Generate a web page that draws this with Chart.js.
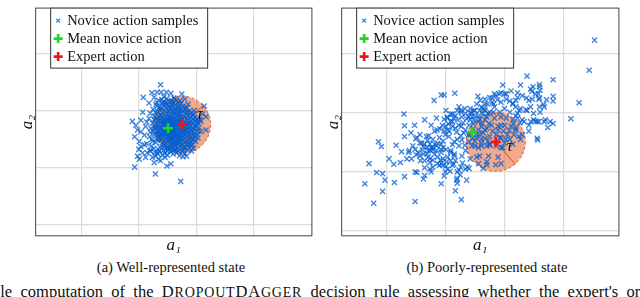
<!DOCTYPE html>
<html>
<head>
<meta charset="utf-8">
<script src="https://cdn.jsdelivr.net/npm/chart.js@4/dist/chart.umd.min.js"></script>
<style>
	body { margin: 0; width: 640px; height: 297px; overflow: hidden; background: #fff; position: relative; font-family: "Liberation Serif", "Times New Roman", serif; color: #111; }
	.panel { position: absolute; top: 0; }
	.cap { position: absolute; top: 259px; width: 240px; text-align: center; font-size: 14.5px; line-height: 16px; white-space: nowrap; }
	.foot { position: absolute; left: -8px; top: 284px; font-size: 16.5px; line-height: 16px; white-space: nowrap; word-spacing: 4.2px; }
	.sc { text-transform: uppercase; letter-spacing: 0.8px; }
	.sc small { font-size: 85%; }
</style>
</head>
<body>
<div class="panel" style="left:19px"><canvas id="wellState" width="301" height="256"></canvas></div>
<div class="panel" style="left:325px"><canvas id="poorState" width="302" height="256"></canvas></div>
<div class="cap" style="left:51px">(a) Well-represented state</div>
<div class="cap" style="left:367px">(b) Poorly-represented state</div>
<div class="foot">ple computation of the <span class="sc">D<small>ropout</small>DA<small>gger</small></span> decision rule assessing whether the expert's or novice's action</div>
<script>
// action values in grid units (grid lines at 1, 2, 3, 4)
const gridTicks = [1, 2, 3, 4];
const tau = 0.5;
const serif = "'Liberation Serif', 'Times New Roman', serif";

const wellSamples = [
	[2.38,3.45],[2.23,3.31],[2.32,3.32],[2.39,3.32],[2.48,3.32],[2.56,3.30],[2.75,3.29],[2.08,3.23],[2.27,3.23],[2.80,3.20],
	[2.18,3.13],[3.14,3.08],[1.89,2.81],[2.07,2.97],[2.04,2.83],[1.98,2.66],[2.04,2.63],[2.01,2.46],[2.04,2.37],[2.00,2.32],
	[2.10,2.40],[2.07,2.26],[2.15,2.26],[2.12,2.18],[2.24,2.18],[2.29,2.20],[2.21,2.29],[2.32,2.26],[2.38,2.12],[2.27,2.09],
	[2.46,2.18],[2.49,2.03],[2.56,2.07],[2.35,2.15],[1.93,2.01],[2.29,1.89],[2.73,1.76],[2.77,2.19],[2.83,2.20],[3.03,2.52],
	[3.08,2.63],[3.17,2.66],[3.03,2.80],[3.11,2.94],[3.17,2.89],[2.97,3.00],[2.86,3.11],[2.72,3.17],[2.63,3.20],[2.94,2.40],
	[2.92,2.29],[2.63,2.32],[1.95,2.74],[1.93,2.54],[1.98,2.20],[2.01,2.15],[3.08,2.81],[3.07,2.84],
	[2.35,3.18],[2.44,3.24],[2.52,3.16],[2.61,3.22],[2.69,3.13],[2.41,3.12],[2.58,3.09],[2.30,3.10],[2.47,3.05],[2.77,3.08],
	[2.25,3.02],[2.33,2.98],[2.39,3.04],[2.55,3.01],[2.63,3.04],[2.71,2.99],[2.82,3.03],[2.91,2.96],[2.49,2.95],[2.66,2.93],
	[2.37,2.92],[2.20,2.95],[2.86,2.91],[2.98,2.88],[2.58,2.97],
	[2.18,2.86],[2.27,2.84],[2.35,2.88],[2.43,2.83],[2.50,2.87],[2.57,2.81],[2.64,2.86],[2.72,2.83],[2.79,2.88],[2.88,2.80],
	[2.95,2.84],[3.02,2.78],[2.46,2.79],[2.60,2.77],[2.75,2.78],[2.31,2.78],[2.14,2.80],[2.68,2.90],
	[2.12,2.72],[2.21,2.69],[2.29,2.74],[2.36,2.70],[2.42,2.66],[2.48,2.73],[2.55,2.68],[2.62,2.72],[2.69,2.67],[2.76,2.71],
	[2.83,2.66],[2.90,2.72],[2.97,2.68],[3.05,2.70],[2.58,2.64],[2.44,2.75],[2.73,2.62],[2.86,2.74],[2.25,2.64],[2.52,2.60],
	[2.10,2.57],[2.19,2.54],[2.27,2.58],[2.34,2.52],[2.40,2.59],[2.47,2.53],[2.54,2.56],[2.61,2.50],[2.67,2.57],[2.74,2.53],
	[2.81,2.58],[2.88,2.51],[2.95,2.56],[2.39,2.48],[2.58,2.46],[2.70,2.45],[2.86,2.60],[2.23,2.50],
	[2.14,2.42],[2.22,2.38],[2.30,2.44],[2.37,2.36],[2.44,2.41],[2.51,2.37],[2.57,2.43],[2.64,2.38],[2.71,2.41],[2.78,2.36],
	[2.84,2.43],[2.91,2.39],[2.48,2.33],[2.62,2.31],
	[2.19,2.30],[2.28,2.27],[2.36,2.29],[2.45,2.25],[2.55,2.28],[2.66,2.26],[2.75,2.29],[2.41,2.22],
	[2.50,2.70],[2.56,2.75],[2.63,2.66],[2.45,2.62],[2.53,2.82],[2.70,2.78],[2.40,2.76],[2.60,2.58],[2.67,2.84],[2.48,2.90],
	[2.57,2.92],[2.34,2.63],[2.76,2.66],[2.81,2.80],[2.43,2.55],[2.52,2.47],[2.65,2.52],[2.73,2.95],[2.38,2.84],[2.30,2.69],
	[2.59,3.12],[2.54,2.52],[2.62,2.80],[2.46,2.68],[2.78,2.56],[2.92,2.64],[2.35,2.58],[2.28,2.90],[2.68,3.06],[2.83,2.48],
	[2.31,3.14],[2.40,3.19],[2.49,3.21],[2.57,3.17],[2.66,3.18],[2.74,3.12],[2.83,3.06],[2.36,3.06],[2.45,3.09],[2.53,3.07],
	[2.61,3.00],[2.69,3.03],[2.77,2.98],[2.85,2.97],[2.94,2.91],[3.01,2.85],[2.29,2.97],[2.41,2.96],[2.52,2.99],[2.63,2.95],
	[2.74,2.90],[2.83,2.86],[2.91,2.82],[2.99,2.74],[2.24,2.78],[2.33,2.82],[2.41,2.88],[2.55,2.86],[2.65,2.81],[2.71,2.75],
	[2.80,2.72],[2.89,2.67],[2.96,2.62],[3.02,2.58],[2.20,2.62],[2.27,2.70],[2.37,2.66],[2.47,2.64],[2.53,2.71],[2.61,2.62],
	[2.68,2.60],[2.77,2.61],[2.84,2.54],[2.92,2.50],[2.99,2.46],[2.24,2.46],[2.32,2.49],[2.41,2.44],[2.49,2.50],[2.56,2.49],
	[2.63,2.45],[2.71,2.49],[2.80,2.45],[2.88,2.41],[2.95,2.34],[2.26,2.34],[2.34,2.32],[2.43,2.30],[2.52,2.33],[2.59,2.36],
	[2.68,2.34],[2.76,2.40],[2.85,2.32],[2.33,2.24],[2.50,2.22],[2.60,2.24],[2.71,2.21],[2.80,2.25],[2.46,3.14],[2.64,3.10],
	[2.58,2.84],[2.44,2.71],[2.51,2.77],[2.66,2.76],[2.39,2.80],[2.72,2.88],[2.60,2.69],[2.48,2.59],[2.57,2.54],[2.69,2.53],
	[2.36,2.53],[2.79,2.66],[2.87,2.70],[2.45,2.46],[2.64,2.58],[2.32,2.59],[2.55,2.41],[2.74,2.45],[2.42,2.35],[2.62,2.40],
	[2.33,3.08],[2.42,3.15],[2.51,3.11],[2.60,3.14],[2.70,3.09],[2.79,3.02],[2.88,2.99],[2.96,2.94],[2.38,3.00],[2.47,2.99],
	[2.56,3.04],[2.65,2.99],[2.73,3.01],[2.82,2.95],[2.90,2.89],[2.99,2.81],[2.31,2.87],[2.40,2.91],[2.49,2.84],[2.58,2.89],
	[2.67,2.92],[2.76,2.85],[2.85,2.83],[2.93,2.77],[3.00,2.72],[2.35,2.75],[2.44,2.78],[2.53,2.75],[2.61,2.84],[2.70,2.81],
	[2.78,2.74],[2.87,2.77],[2.94,2.69],[3.03,2.64],[2.32,2.66],[2.41,2.69],[2.50,2.64],[2.59,2.72],[2.67,2.63],[2.75,2.68],
	[2.84,2.63],[2.92,2.59],[2.99,2.55],[2.37,2.57],[2.46,2.59],[2.55,2.61],[2.63,2.55],[2.72,2.58],[2.80,2.51],[2.89,2.55],
	[2.96,2.49],[2.40,2.51],[2.49,2.45],[2.58,2.51],[2.66,2.47],[2.75,2.50],[2.83,2.40],[2.91,2.45],[2.45,2.38],[2.54,2.36],
	[2.63,2.42],[2.72,2.37],[2.80,2.34],[2.88,2.36],[2.50,2.29],[2.59,2.31],[2.69,2.29],[2.78,2.31],[2.55,2.78],[2.62,2.76],
	[2.48,2.67],[2.57,2.70],[2.65,2.70],[2.53,2.88],[2.69,2.71],[2.43,2.61],[2.61,2.65],[2.52,2.55],[2.73,2.79],[2.46,2.82]
];
const wellMean = [2.51, 2.69];
const wellExpert = [2.75, 2.75];

const poorSamples = [
	[4.52,4.22],[4.43,3.71],[4.26,3.16],[4.12,2.89],[3.82,3.55],[3.82,3.27],[3.73,2.74],[3.67,2.84],[3.66,3.13],
	[3.59,3.47],[3.59,3.43],[3.60,3.37],[3.57,3.31],[3.55,2.56],[3.52,2.85],[3.38,3.61],[3.27,3.46],[3.44,3.39],
	[2.97,3.46],[2.83,3.31],[2.94,3.33],[3.03,3.31],[3.11,3.36],[3.22,3.25],[3.30,3.28],[3.37,3.24],[3.47,3.22],
	[3.58,3.22],[3.71,3.21],[3.82,3.19],[3.59,3.09],[3.67,3.09],[3.69,2.87],[3.82,2.81],[3.41,2.68],[3.56,2.53],
	[2.16,3.32],[2.55,3.27],[2.59,3.20],[2.23,3.09],[2.26,3.03],[2.33,3.06],[2.42,3.06],[2.50,3.03],[2.58,3.03],[2.66,3.04],
	[1.81,3.20],[1.93,3.29],[1.98,3.29],[1.30,2.97],[2.01,3.03],[1.48,2.78],[1.98,2.88],[2.03,2.92],[2.12,2.97],[2.09,2.84],
	[1.86,2.70],[1.91,2.72],[1.42,2.65],[1.31,2.59],[1.72,2.60],[1.52,2.57],[0.87,2.50],[0.92,2.42],[1.17,2.44],[1.26,2.33],
	[1.35,2.21],[0.71,2.13],[1.13,2.12],[0.84,1.98],[0.94,1.96],[1.52,1.98],[2.00,1.99],[2.08,2.00],[0.98,1.85],[1.31,1.91],
	[1.63,1.87],[0.64,1.79],[1.14,1.81],[1.93,1.79],[1.98,1.92],[0.94,1.66],[2.17,1.67],[0.79,1.46],[1.49,1.49],[2.27,1.52],
	[2.36,1.85],[2.19,1.85],[2.20,1.80],[2.23,2.02],[2.25,1.94],[2.37,2.07],[2.40,2.05],[2.56,2.13],[2.70,2.11],[2.64,2.05],
	[2.85,2.11],[2.53,2.24],[2.73,2.26],[2.50,2.43],[2.61,2.43],[2.75,2.44],[2.70,2.16],[2.94,2.13],[2.89,2.24],
	[1.90,2.10],[1.96,2.10],[2.01,2.09],
	[2.48,2.87],[2.56,2.84],[2.67,2.87],[2.72,2.98],[2.83,2.90],[2.94,2.92],[3.03,2.90],[3.14,2.87],[3.22,2.90],[3.30,2.87],
	[2.61,2.76],[2.70,2.73],[2.78,2.78],[2.89,2.76],[3.00,2.78],[3.11,2.76],[3.19,2.73],[2.42,2.62],[2.53,2.62],[2.64,2.65],
	[2.75,2.59],[2.86,2.62],[2.94,2.57],[3.05,2.62],[3.16,2.62],[3.24,2.59],[2.50,2.51],[2.61,2.48],[2.72,2.51],[3.00,2.48],
	[3.14,2.46],[2.45,2.43],[2.56,2.40],[2.94,2.40],
	[3.44,2.84],[3.49,2.87],[3.58,2.84],[3.77,2.84],[3.59,3.24],[3.60,3.00],[3.55,2.84],
	[2.79,3.24],[2.79,3.17],[2.88,3.21],[2.94,3.17],[3.03,3.22],[3.09,3.19],[3.14,3.14],[3.19,3.09],[2.67,3.14],[2.61,3.09],
	[2.83,3.09],[3.00,3.06],[3.27,3.06],[3.38,3.03],[2.75,3.00],[2.92,3.00],[3.09,3.00],[3.22,2.98],[3.49,2.98],
	[2.20,3.03],[2.27,3.00],[2.17,2.94],[2.09,2.97],[2.04,2.90],[2.12,2.84],[2.28,2.92],[2.34,2.98],[2.42,3.00],[2.67,3.03],
	[2.45,2.93],[2.56,2.94],[2.81,3.00],[2.42,2.87],[2.48,2.81],
	[2.01,2.76],[2.04,2.70],[1.98,2.68],[2.07,2.68],[2.12,2.76],[2.17,2.73],[2.23,2.78],[2.27,2.76],[2.31,2.65],[2.39,2.62],
	[2.53,2.57],[2.61,2.54],[2.75,2.46],[2.92,2.57],[2.89,2.70],[2.94,2.78],[2.67,2.70],[2.56,2.70],
	[1.74,2.46],[1.79,2.40],[1.85,2.43],[1.71,2.35],[1.82,2.29],[1.93,2.32],[2.01,2.37],[2.09,2.35],[2.15,2.26],[2.17,2.18],
	[1.96,2.21],[1.87,2.24],[1.74,2.21],[2.58,2.26],[2.70,2.43],
	[1.65,2.87],[1.85,2.90],[1.76,2.78],[1.90,2.57],[1.96,2.51],[2.20,2.54],[2.23,2.43],[2.34,2.35],[2.28,2.26],
	[1.57,2.48],[1.65,2.46],[1.63,2.42],[1.69,2.40],[1.76,2.40],[1.82,2.46],[1.87,2.47],[1.93,2.46],[1.96,2.40],[1.79,2.37],
	[1.75,2.35],[1.49,2.37],[1.54,2.32],[1.51,2.28],[1.57,2.26],[1.63,2.29],[1.71,2.24],[1.65,2.18],[1.74,2.15],[1.79,2.19],
	[1.87,2.13],[1.93,2.13],[2.04,2.24],[2.09,2.32],[2.15,2.29],[2.09,2.18],[2.12,2.10],[2.04,2.04],
	[1.79,2.07],[1.74,2.04],[1.38,2.32],[1.43,2.21],[1.24,2.15],[1.05,2.21],
	[1.82,2.68],[1.79,2.54],[1.68,2.59],[1.57,2.62],[1.50,2.55],[1.60,2.48],[1.39,2.35],[1.31,2.77],[1.49,1.99],[1.65,2.06],
	[1.93,2.37],[1.76,1.99],[1.65,1.93],[2.20,1.99],[2.20,1.88],[2.26,2.07],[2.34,2.04],[2.42,2.21],
	[3.22,3.33],[3.19,3.20],[3.14,3.15],[3.25,3.03],[3.19,2.94],[3.15,2.81],[3.26,2.82],[3.33,2.84],[3.41,2.78],[3.00,3.31],
	[2.91,3.31],[2.85,3.28],[2.75,3.25],[2.81,3.14],[2.71,3.14],[2.67,3.22],[2.53,3.14],[2.64,3.06],[2.48,3.03],[2.44,2.98],
	[2.39,2.92],[3.48,3.43],[3.46,3.35],[3.52,3.31],[3.41,3.20],[3.36,3.04],[3.44,3.09],[3.02,2.54],[3.09,2.54],[3.19,2.70],
	[3.30,2.62],[3.27,2.54],[2.97,2.40],[2.86,2.43],
	[2.05,2.80],[2.14,2.90],[2.21,2.87],[2.30,2.82],[2.36,2.89],[2.19,2.66],[2.26,2.60],[2.34,2.70],[2.40,2.78],[2.47,2.72],
	[2.51,2.94],[2.58,2.88],[2.63,2.97],[2.70,2.92],[2.15,2.50],[2.28,2.53],[2.40,2.50],[2.33,2.44],[2.06,2.59],[2.12,2.45],
	[1.95,2.78],[2.00,2.62],[2.46,2.56],[2.58,2.62],[2.67,2.56],[2.80,2.68],[2.74,2.81],[2.62,2.81],[2.98,2.68],[3.08,2.69],
	[1.70,2.52],[1.61,2.36],[1.69,2.30],[1.85,2.35],[1.92,2.19],[2.02,2.16],[2.14,2.12],[2.29,2.14],[1.58,2.18],[1.45,2.43]
];
const poorMean = [2.45, 2.66];
const poorExpert = [2.85, 2.50];

const sampleColor = "rgba(0, 95, 210, 0.75)";
const sampleLegendColor = "rgb(40, 150, 255)";
const meanColor = "#18dc18";
const expertColor = "#ee1515";

const pt = ([x, y]) => ({ x, y });

const tauPlugin = {
	id: "tauRegion",
	beforeDatasetsDraw(chart, args, opts) {
		const { ctx, chartArea, scales: { x, y } } = chart;
		const cx = x.getPixelForValue(opts.center[0]);
		const cy = y.getPixelForValue(opts.center[1]);
		const rx = x.getPixelForValue(opts.center[0] + opts.radius) - cx;
		const ry = cy - y.getPixelForValue(opts.center[1] + opts.radius);
		ctx.save();
		ctx.beginPath();
		ctx.rect(chartArea.left, chartArea.top, chartArea.width, chartArea.height);
		ctx.clip();
		ctx.beginPath();
		ctx.ellipse(cx, cy, rx, ry, 0, 0, Math.PI * 2);
		ctx.fillStyle = "rgba(228, 100, 46, 0.55)";
		ctx.fill();
		ctx.setLineDash([3, 2]);
		ctx.strokeStyle = "rgba(215, 80, 40, 0.9)";
		ctx.lineWidth = 1;
		ctx.stroke();
		ctx.setLineDash([]);
		const a = opts.angle * Math.PI / 180;
		ctx.beginPath();
		ctx.moveTo(cx, cy);
		ctx.lineTo(cx + rx * Math.cos(a), cy - ry * Math.sin(a));
		ctx.strokeStyle = "#c9502e";
		ctx.stroke();
		ctx.restore();
	},
	afterDatasetsDraw(chart, args, opts) {
		const { ctx, scales: { x, y } } = chart;
		const cx = x.getPixelForValue(opts.center[0]);
		const cy = y.getPixelForValue(opts.center[1]);
		ctx.save();
		ctx.font = "italic 16px " + serif;
		ctx.fillStyle = "#111";
		ctx.textAlign = "center";
		ctx.textBaseline = "middle";
		ctx.fillText("τ", cx + opts.label[0], cy + opts.label[1]);
		ctx.restore();
	}
};

const frameLegendPlugin = {
	id: "frameLegend",
	afterDraw(chart) {
		const { ctx, chartArea: a } = chart;
		ctx.save();
		ctx.strokeStyle = "#444";
		ctx.lineWidth = 1;
		ctx.strokeRect(a.left + 0.5, a.top + 0.5, a.width - 1, a.height - 1);

		const bx = a.left + 15, by = a.top, bw = 158, bh = 60;
		ctx.fillStyle = "#fff";
		ctx.fillRect(bx, by, bw, bh);
		ctx.strokeStyle = "#333";
		ctx.strokeRect(bx + 0.5, by + 0.5, bw - 1, bh);
		ctx.font = "14.5px " + serif;
		ctx.textBaseline = "middle";
		chart.data.datasets.forEach((ds, i) => {
			const my = by + 13 + i * 18;
			ctx.strokeStyle = ds.legendColor;
			ctx.fillStyle = ds.legendColor;
			ctx.lineWidth = ds.pointBorderWidth;
			Chart.helpers.drawPoint(ctx, {
				pointStyle: ds.pointStyle,
				radius: ds.legendRadius,
				borderWidth: ds.pointBorderWidth,
				rotation: 0
			}, bx + 8, my);
			ctx.fillStyle = "#111";
			ctx.fillText(ds.label, bx + 17, my + 1);
		});
		ctx.restore();
	}
};

function axis(title, lo, hi, lineHeight) {
	return {
		type: "linear",
		min: lo,
		max: hi,
		afterBuildTicks: (s) => { s.ticks = gridTicks.map((v) => ({ value: v })); },
		ticks: { display: false },
		grid: { color: "#dcdcdc", lineWidth: 1.2, drawTicks: false },
		border: { display: false },
		title: {
			display: true,
			text: title,
			color: "#111",
			font: { family: serif, style: "italic", size: 17, lineHeight: lineHeight },
			padding: { top: 0, bottom: 0 }
		}
	};
}

function actionChart(id, samples, mean, expert, xr, yr, tauAngle, tauLabel) {
	return new Chart(document.getElementById(id), {
		type: "scatter",
		data: {
			datasets: [
				{
					label: "Novice action samples",
					data: samples.map(pt),
					pointStyle: "crossRot",
					pointRadius: 3.6,
					pointBorderWidth: 1.4,
					borderColor: sampleColor,
					backgroundColor: sampleColor,
					legendColor: sampleLegendColor,
					legendRadius: 2.6,
					order: 3
				},
				{
					label: "Mean novice action",
					data: [pt(mean)],
					pointStyle: "cross",
					pointRadius: 5,
					pointBorderWidth: 2.6,
					borderColor: meanColor,
					backgroundColor: meanColor,
					legendColor: meanColor,
					legendRadius: 4.5,
					order: 2
				},
				{
					label: "Expert action",
					data: [pt(expert)],
					pointStyle: "cross",
					pointRadius: 5,
					pointBorderWidth: 2.6,
					borderColor: expertColor,
					backgroundColor: expertColor,
					legendColor: expertColor,
					legendRadius: 4.5,
					order: 1
				}
			]
		},
		options: {
			responsive: false,
			animation: false,
			events: [],
			layout: { padding: { top: 1, right: 1, bottom: 1, left: 0 } },
			plugins: {
				legend: { display: false },
				tooltip: { enabled: false },
				tauRegion: { center: expert, radius: tau, angle: tauAngle, label: tauLabel }
			},
			scales: {
				x: axis("a₁", xr[0], xr[1], 1.1),
				y: axis("a₂", yr[0], yr[1], 0.95)
			}
		},
		plugins: [tauPlugin, frameLegendPlugin]
	});
}

actionChart("wellState", wellSamples, wellMean, wellExpert, [0.2, 5.02], [0.8, 4.8], 42, [18, -10]);
actionChart("poorState", poorSamples, poorMean, poorExpert, [0.24, 4.94], [0.9, 4.77], -49, [14, 5]);
</script>
</body>
</html>
